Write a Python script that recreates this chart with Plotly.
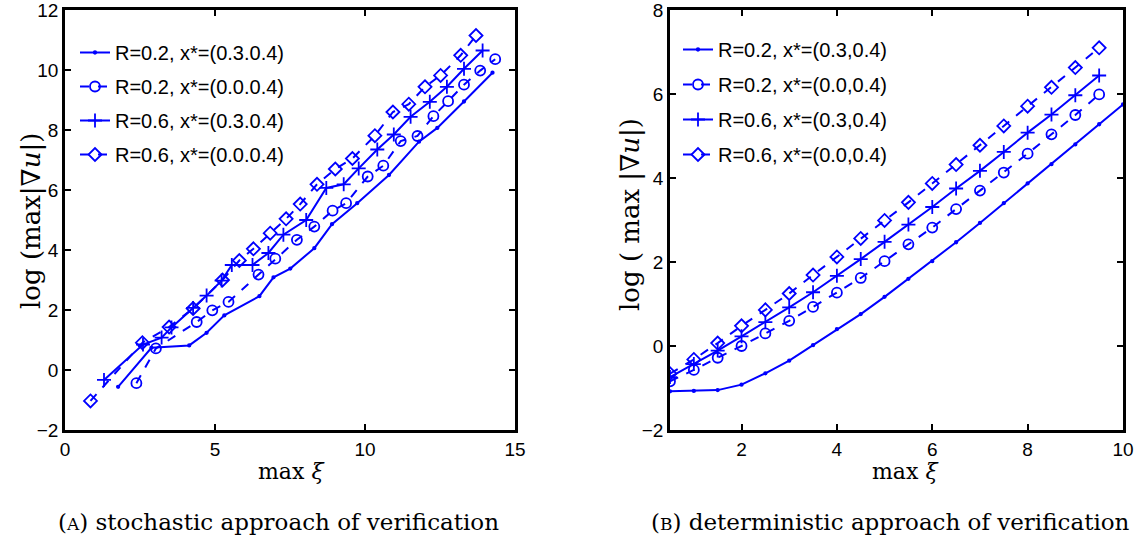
import plotly.graph_objects as go

# ---------------- Left panel (A): stochastic approach ----------------
a_r02_p03_x = [1.77, 2.88, 4.14, 4.72, 5.31, 6.48, 6.95, 7.51, 8.31, 8.9, 9.74, 10.8, 11.8, 12.41, 13.3, 14.25]
a_r02_p03_y = [-0.56, 0.74, 0.82, 1.24, 1.82, 2.46, 3.09, 3.38, 4.06, 4.86, 5.56, 6.5, 7.61, 8.07, 8.95, 9.91]

a_r02_p00_x = [2.38, 3.03, 4.39, 4.91, 5.45, 6.45, 7.01, 7.73, 8.31, 8.92, 9.37, 10.09, 10.61, 11.19, 11.75, 12.28, 12.77, 13.3, 13.84, 14.34]
a_r02_p00_y = [-0.44, 0.72, 1.6, 1.99, 2.27, 3.18, 3.71, 4.34, 4.78, 5.31, 5.56, 6.45, 6.81, 7.63, 7.8, 8.46, 8.96, 9.51, 9.98, 10.36]

a_r06_p03_x = [1.3, 2.6, 3.22, 3.55, 4.27, 4.72, 5.22, 5.56, 6.25, 6.78, 7.28, 8.04, 8.71, 9.29, 9.79, 10.41, 10.96, 11.52, 12.16, 12.73, 13.3, 13.92]
a_r06_p03_y = [-0.33, 0.85, 1.08, 1.42, 2.07, 2.48, 2.98, 3.5, 3.5, 3.9, 4.51, 5.0, 6.07, 6.19, 6.72, 7.35, 7.85, 8.44, 8.94, 9.44, 10.04, 10.65]

a_r06_p00_x = [0.85, 2.58, 3.47, 4.27, 5.25, 5.81, 6.28, 6.84, 7.37, 7.84, 8.4, 9.01, 9.58, 10.33, 10.93, 11.46, 12.0, 12.52, 13.19, 13.7]
a_r06_p00_y = [-1.03, 0.91, 1.43, 2.05, 3.0, 3.65, 4.04, 4.56, 5.04, 5.53, 6.19, 6.7, 7.05, 7.81, 8.6, 8.86, 9.44, 9.82, 10.49, 11.15]

# ---------------- Right panel (B): deterministic approach ----------------
b_x_long = [0.5, 1, 1.5, 2, 2.5, 3, 3.5, 4, 4.5, 5, 5.5, 6, 6.5, 7, 7.5, 8, 8.5, 9, 9.5, 10]
b_x = [0.5, 1, 1.5, 2, 2.5, 3, 3.5, 4, 4.5, 5, 5.5, 6, 6.5, 7, 7.5, 8, 8.5, 9, 9.5]

b_r02_p03_y = [-1.08, -1.07, -1.05, -0.92, -0.65, -0.35, 0.02, 0.4, 0.76, 1.17, 1.6, 2.02, 2.47, 2.93, 3.4, 3.87, 4.33, 4.8, 5.28, 5.75]
b_r02_p00_y = [-0.84, -0.57, -0.28, 0.0, 0.3, 0.6, 0.93, 1.27, 1.62, 2.02, 2.42, 2.82, 3.26, 3.7, 4.13, 4.58, 5.04, 5.5, 5.99]
b_r06_p03_y = [-0.74, -0.43, -0.11, 0.23, 0.57, 0.92, 1.28, 1.67, 2.07, 2.48, 2.89, 3.31, 3.75, 4.17, 4.62, 5.08, 5.51, 5.97, 6.44]
b_r06_p00_y = [-0.66, -0.32, 0.07, 0.48, 0.86, 1.25, 1.69, 2.12, 2.56, 2.99, 3.42, 3.87, 4.32, 4.78, 5.24, 5.71, 6.16, 6.63, 7.1]

a_names = ["R=0.2, x*=(0.3.0.4)", "R=0.2, x*=(0.0.0.4)", "R=0.6, x*=(0.3.0.4)", "R=0.6, x*=(0.0.0.4)"]
b_names = ["R=0.2, x*=(0.3,0.4)", "R=0.2, x*=(0.0,0.4)", "R=0.6, x*=(0.3,0.4)", "R=0.6, x*=(0.0,0.4)"]

a_ticks_x = [0, 5, 10, 15]
a_ticks_y = [-2, 0, 2, 4, 6, 8, 10, 12]
b_ticks_x = [2, 4, 6, 8, 10]
b_ticks_y = [-2, 0, 2, 4, 6, 8]

BLUE = "#0000ff"
styles = [
    dict(dash="solid", symbol="circle", size=2.5),
    dict(dash="dash", symbol="circle-open", size=10),
    dict(dash="solid", symbol="cross-thin-open", size=10),
    dict(dash="dash", symbol="diamond-open", size=10),
]

fig = go.Figure()

a_series = [(a_r02_p03_x, a_r02_p03_y), (a_r02_p00_x, a_r02_p00_y),
            (a_r06_p03_x, a_r06_p03_y), (a_r06_p00_x, a_r06_p00_y)]
b_series = [(b_x_long, b_r02_p03_y), (b_x, b_r02_p00_y), (b_x, b_r06_p03_y), (b_x, b_r06_p00_y)]

for i, (xs, ys) in enumerate(a_series):
    st = styles[i]
    fig.add_trace(go.Scatter(
        x=xs, y=ys, mode="lines+markers", name=a_names[i],
        line=dict(color=BLUE, width=2, dash=st["dash"]),
        marker=dict(symbol=st["symbol"], size=st["size"], color=BLUE,
                    line=dict(color=BLUE, width=1.8)),
        xaxis="x", yaxis="y", legend="legend", legendgroup="a%d" % i))

for i, (xs, ys) in enumerate(b_series):
    st = styles[i]
    fig.add_trace(go.Scatter(
        x=xs, y=ys, mode="lines+markers", name=b_names[i],
        line=dict(color=BLUE, width=2, dash=st["dash"]),
        marker=dict(symbol=st["symbol"], size=st["size"], color=BLUE,
                    line=dict(color=BLUE, width=1.8)),
        xaxis="x2", yaxis="y2", legend="legend2", legendgroup="b%d" % i))

W, H = 1143, 539
tickfont = dict(family="Liberation Sans, Arial, sans-serif", size=19, color="black")
serif = "DejaVu Serif, Liberation Serif, serif"
legfont = dict(family="Liberation Sans, Arial", size=20, color="black")

def ax(domain, rng, ticks, anchor):
    return dict(domain=domain, range=rng, tickvals=ticks, ticks="inside", ticklen=6,
                tickwidth=1.5, tickcolor="black", showline=True, linecolor="black",
                linewidth=2.5, mirror="ticks", showgrid=False, zeroline=False,
                tickfont=tickfont, anchor=anchor, automargin=False,
                ticklabeloverflow="allow")

y_dom = [1 - 430 / H, 1 - 10 / H]
fig.update_layout(
    width=W, height=H, margin=dict(l=0, r=0, t=0, b=0, autoexpand=False),
    paper_bgcolor="white", plot_bgcolor="white", showlegend=True,
    xaxis=ax([65 / W, 515 / W], [0, 15], a_ticks_x, "y"),
    yaxis=ax(y_dom, [-2, 12], a_ticks_y, "x"),
    xaxis2=ax([670 / W, 1123 / W], [0.5, 10], b_ticks_x, "y2"),
    yaxis2=ax(y_dom, [-2, 8], b_ticks_y, "x2"),
    legend=dict(x=75 / W, y=1 - 33 / H, xanchor="left", yanchor="top",
                bgcolor="rgba(0,0,0,0)", font=legfont, tracegroupgap=5, itemwidth=30),
    legend2=dict(x=678 / W, y=1 - 30 / H, xanchor="left", yanchor="top",
                 bgcolor="rgba(0,0,0,0)", font=legfont, tracegroupgap=6, itemwidth=30),
)

def note(text, x, y, size, angle=0):
    return dict(text=text, x=x / W, y=1 - y / H, xref="paper", yref="paper",
                xanchor="center", yanchor="middle", showarrow=False, textangle=angle,
                font=dict(family=serif, size=size, color="black"))

ann = [
    note("max <i>ξ</i>", 291, 471, 22),
    note("max <i>ξ</i>", 905, 471, 22),
    note("log (max|∇<i>u</i>|)", 31, 221, 26, -90),
    note("log ( max |∇<i>u</i>|)", 630, 215, 26, -90),
    note("(<span style='font-size:17px'>A</span>) stochastic approach of verification", 278, 522, 23),
    note("(<span style='font-size:17px'>B</span>) deterministic approach of verification", 890, 522, 23),
]
fig.update_layout(annotations=ann)

fig.write_html("out.html", config={"displayModeBar": False},
               post_script="document.body.style.margin='0';document.body.style.padding='0';document.body.style.overflow='hidden';")
